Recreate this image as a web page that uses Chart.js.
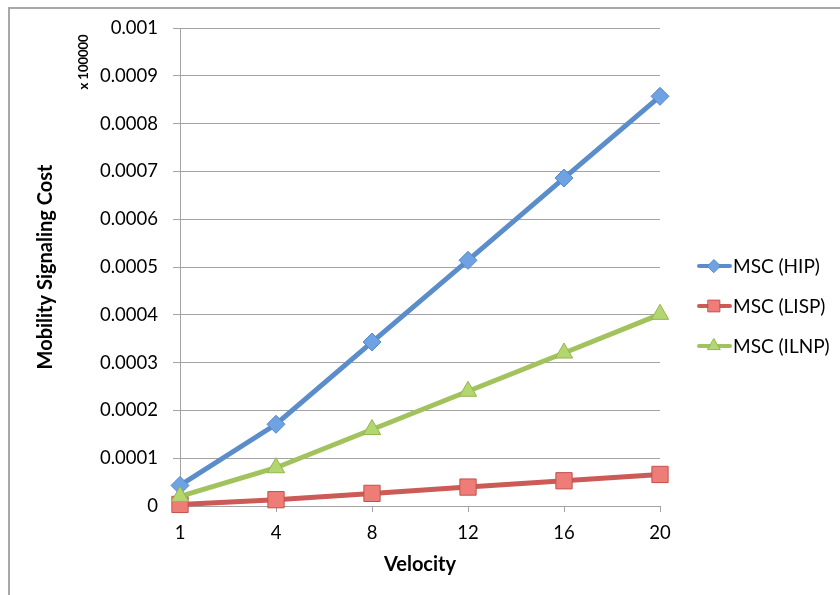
<!DOCTYPE html>
<html>
<head>
<meta charset="utf-8">
<script src="https://cdn.jsdelivr.net/npm/chart.js@4.4.1/dist/chart.umd.min.js"></script>
<style>
  html, body { margin: 0; padding: 0; background: #fff; overflow: hidden; }
  #wrap { position: relative; width: 840px; height: 595px; }
  #frame { position: absolute; left: 8px; top: 7px; width: 900px; height: 700px; border: 2px solid #a8a8a8; box-sizing: border-box; }
  canvas { position: absolute; left: 0; top: 0; }
</style>
</head>
<body>
<div id="wrap"><div id="frame"></div><canvas id="chart" width="840" height="595"></canvas></div>
<script>
// velocity categories on the x axis
const velocities = ['1', '4', '8', '12', '16', '20'];

// mobility signaling cost per protocol
const mscHip = [0.0000430, 0.000171, 0.000343, 0.000514, 0.000686, 0.000857];
const mscLisp = [0.0000033, 0.0000132, 0.0000264, 0.0000396, 0.0000528, 0.0000660];
const mscIlnp = [0.0000200, 0.0000800, 0.000160, 0.000240, 0.000320, 0.000401];

const FONT = 'Lato, "Open Sans", sans-serif';
const GRID = '#a3a3a3';

// legend on the right: line + marker + label, like the spreadsheet one
const sideLegend = {
  id: 'sideLegend',
  afterDraw(chart) {
    const { ctx, chartArea } = chart;
    const mid = (chartArea.top + chartArea.bottom) / 2;
    [0, 1, 2].forEach((i) => {
      const ds = chart.data.datasets[i];
      const y = mid - 1 + i * 40;
      ctx.save();
      ctx.strokeStyle = ds.borderColor;
      ctx.lineWidth = 4;
      ctx.lineCap = 'round';
      ctx.beginPath();
      ctx.moveTo(699, y);
      ctx.lineTo(730, y);
      ctx.stroke();
      ctx.fillStyle = ds.pointBackgroundColor;
      ctx.strokeStyle = ds.pointBorderColor;
      ctx.lineWidth = 1;
      Chart.helpers.drawPoint(ctx, { pointStyle: ds.pointStyle, radius: ds.pointRadius * 0.72, borderWidth: 1 }, 714, y);
      ctx.fillStyle = '#000';
      ctx.font = '19px ' + FONT;
      ctx.textBaseline = 'middle';
      ctx.textAlign = 'left';
      ctx.fillText(ds.label, 733, y + 1);
      ctx.restore();
    });

    // the small unit note beside the top of the y axis
    ctx.save();
    ctx.translate(84, 62);
    ctx.rotate(-Math.PI / 2);
    ctx.font = 'bold 13px ' + FONT;
    ctx.fillStyle = '#000';
    ctx.textAlign = 'center';
    ctx.textBaseline = 'middle';
    ctx.fillText('x 100000', 0, 0);
    ctx.restore();
  },
};

new Chart(document.getElementById('chart'), {
  type: 'line',
  data: {
    labels: velocities,
    datasets: [
      {
        label: 'MSC (HIP)',
        data: mscHip,
        borderColor: '#5a8dca',
        borderWidth: 5,
        pointStyle: 'rectRot',
        pointRadius: 9,
        pointBackgroundColor: '#6fa2e2',
        pointBorderColor: '#5388c8',
        pointBorderWidth: 1,
        order: 2,
        clip: false,
      },
      {
        label: 'MSC (LISP)',
        data: mscLisp,
        borderColor: '#cc5a56',
        borderWidth: 5,
        pointStyle: 'rect',
        pointRadius: 11.5,
        pointBackgroundColor: '#ee7c77',
        pointBorderColor: '#c4504c',
        pointBorderWidth: 1,
        order: 1,
        clip: false,
      },
      {
        label: 'MSC (ILNP)',
        data: mscIlnp,
        borderColor: '#a2c25e',
        borderWidth: 5,
        pointStyle: 'triangle',
        pointRadius: 10,
        pointBackgroundColor: '#b2d670',
        pointBorderColor: '#94b550',
        pointBorderWidth: 1,
        order: 0,
        clip: false,
      },
    ],
  },
  options: {
    responsive: false,
    animation: false,
    layout: { padding: { left: 0, right: 180, top: 28, bottom: 0 } },
    plugins: {
      legend: { display: false },
      tooltip: { enabled: false },
    },
    elements: { line: { tension: 0 } },
    scales: {
      x: {
        type: 'category',
        offset: false,
        afterFit: (scale) => { scale.height = 89; },
        grid: { drawOnChartArea: false, drawTicks: true, tickLength: 6, color: GRID, lineWidth: 1 },
        border: { color: GRID, width: 1 },
        ticks: { color: '#000', font: { family: FONT, size: 18.5 }, padding: 10 },
        title: { display: true, text: 'Velocity', color: '#000', font: { family: FONT, size: 20, weight: 'bold' }, padding: { top: 0, bottom: 18 } },
      },
      y: {
        min: 0,
        max: 0.001,
        afterFit: (scale) => { scale.width = 180; },
        grid: { color: GRID, lineWidth: 1, tickLength: 7 },
        border: { color: GRID, width: 1 },
        ticks: {
          stepSize: 0.0001,
          color: '#000',
          font: { family: FONT, size: 18.5 },
          padding: 15,
          callback: (v) => String(parseFloat(v.toFixed(4))),
        },
        title: { display: true, text: 'Mobility Signaling Cost', color: '#000', font: { family: FONT, size: 20, weight: 'bold' }, padding: { top: 34, bottom: 0 } },
      },
    },
  },
  plugins: [sideLegend],
});
</script>
</body>
</html>
